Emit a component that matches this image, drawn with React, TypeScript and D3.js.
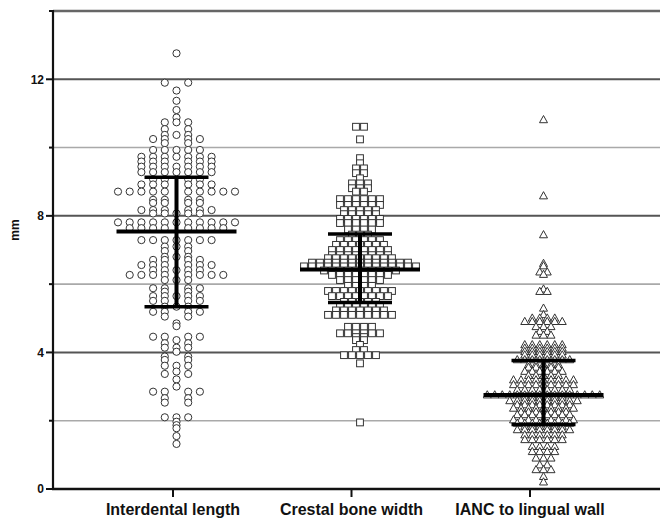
import React, { useRef, useEffect } from 'react';
import * as d3 from 'd3';

// categories on the x axis
const categories = ['Interdental length', 'Crestal bone width', 'IANC to lingual wall'];

// [value in mm, number of points at that value]
const interdentalRows: [number, number][] = [
  [12.76, 1], [11.9, 2], [11.67, 1], [11.37, 1], [11.1, 1], [10.88, 1], [10.74, 3], [10.54, 2],
  [10.37, 3], [10.25, 4], [10.13, 2], [9.93, 5], [9.73, 7], [9.59, 6], [9.44, 7], [9.28, 7],
  [9.07, 4], [8.92, 6], [8.71, 10], [8.47, 4], [8.38, 4], [8.17, 6], [8.07, 5], [7.81, 11],
  [7.64, 8], [7.29, 7], [7.1, 3], [6.97, 2], [6.8, 3], [6.71, 4], [6.56, 6], [6.41, 5],
  [6.27, 8], [6.12, 3], [5.88, 4], [5.78, 2], [5.65, 5], [5.51, 4], [5.34, 3], [5.19, 4],
  [5.05, 2], [4.85, 1], [4.77, 1], [4.46, 4], [4.36, 1], [4.27, 2], [4.14, 3], [4.02, 1],
  [3.88, 2], [3.78, 2], [3.61, 3], [3.44, 1], [3.37, 2], [3.21, 1], [3.0, 1], [2.85, 4],
  [2.66, 2], [2.53, 2], [2.1, 3], [1.97, 1], [1.87, 1], [1.78, 1], [1.55, 1], [1.32, 1],
];

const crestalRows: [number, number][] = [
  [10.61, 2], [10.24, 1], [9.69, 1], [9.54, 1], [9.39, 2], [9.25, 2], [9.1, 1], [8.95, 3],
  [8.81, 3], [8.71, 2], [8.49, 6], [8.32, 6], [8.17, 5], [8.05, 5], [7.91, 6], [7.79, 6],
  [7.6, 4], [7.45, 3], [7.29, 6], [7.15, 7], [7.0, 8], [6.85, 8], [6.76, 9], [6.63, 13],
  [6.52, 15], [6.4, 10], [6.27, 8], [6.12, 6], [5.95, 4], [5.8, 9], [5.65, 8], [5.48, 5],
  [5.36, 6], [5.23, 7], [5.1, 9], [4.75, 4], [4.56, 6], [4.45, 2], [4.36, 2], [4.22, 1],
  [4.07, 2], [3.92, 5], [3.68, 1], [1.95, 1],
];

const iancRows: [number, number][] = [
  [10.81, 1], [8.58, 1], [7.44, 1], [6.6, 1], [6.53, 1], [6.35, 2], [6.28, 1], [5.85, 1],
  [5.78, 2], [5.29, 1], [5.1, 1], [5.0, 4], [4.9, 6], [4.75, 3], [4.61, 2], [4.5, 3],
  [4.22, 6], [4.12, 6], [4.02, 6], [3.92, 6], [3.78, 8], [3.64, 5], [3.56, 5], [3.44, 6],
  [3.32, 5], [3.19, 9], [3.05, 9], [2.9, 8], [2.75, 16], [2.68, 6], [2.58, 10], [2.46, 8],
  [2.36, 9], [2.25, 7], [2.17, 8], [2.02, 9], [1.92, 8], [1.83, 6], [1.73, 8], [1.58, 6],
  [1.44, 6], [1.24, 4], [1.09, 4], [0.9, 3], [0.7, 2], [0.56, 3], [0.36, 1], [0.2, 1],
];

// summary bars (lower, centre, upper) per category
const lowerBar = [5.34, 5.46, 1.89];
const centerBar = [7.54, 6.43, 2.75];
const upperBar = [9.13, 7.47, 3.76];

const majorTicks = [0, 4, 8, 12];
const minorTicks = [2, 6, 10, 14];

const FONT = '"Liberation Sans", Arial, Helvetica, sans-serif';

const DotPlot = () => {
  const svgRef = useRef<SVGSVGElement>(null);

  const totalWidth = 660;
  const totalHeight = 524;

  useEffect(() => {
    const svg = d3.select(svgRef.current);
    svg.selectAll('*').remove();

    const y = d3.scaleLinear().domain([0, 14]).range([489, 11]);
    const axisX = d3.scalePoint<string>().domain(categories).range([173, 530]);
    const dataX = d3.scalePoint<string>().domain(categories).range([176.5, 543.5]);
    const left = 53;
    const right = totalWidth;

    // gridlines
    const grid = svg.append('g');
    [2, 6, 10].forEach(v => {
      grid.append('line')
        .attr('x1', left).attr('x2', right)
        .attr('y1', y(v)).attr('y2', y(v))
        .attr('stroke', '#a9a9a9').attr('stroke-width', 1.6);
    });
    [4, 8, 12].forEach(v => {
      grid.append('line')
        .attr('x1', left).attr('x2', right)
        .attr('y1', y(v)).attr('y2', y(v))
        .attr('stroke', '#555').attr('stroke-width', 2);
    });
    grid.append('line')
      .attr('x1', left).attr('x2', right)
      .attr('y1', y(14)).attr('y2', y(14))
      .attr('stroke', '#666').attr('stroke-width', 2.4);

    // points
    const allRows = [interdentalRows, crestalRows, iancRows];
    const spacing = [11.7, 8, 7.5];
    const pts = svg.append('g');

    allRows.forEach((rows, gi) => {
      const cx = dataX(categories[gi])!;
      rows.forEach(([v, n]) => {
        const offsets: number[] = [];
        if (n % 2 === 1) {
          const k = (n - 1) / 2;
          for (let i = -k; i <= k; i++) offsets.push(i);
        } else if (gi === 0) {
          // circles keep to columns, the centre column left empty
          for (let i = 1; i <= n / 2; i++) { offsets.push(-i); offsets.push(i); }
        } else {
          for (let i = 0; i < n; i++) offsets.push(i - (n - 1) / 2);
        }
        offsets.forEach(o => {
          const px = cx + o * spacing[gi];
          const py = y(v);
          if (gi === 0) {
            pts.append('circle')
              .attr('cx', px).attr('cy', py).attr('r', 3.6)
              .attr('fill', 'white').attr('stroke', '#333').attr('stroke-width', 1);
          } else if (gi === 1) {
            pts.append('rect')
              .attr('x', px - 3.4).attr('y', py - 3.4)
              .attr('width', 6.8).attr('height', 6.8)
              .attr('fill', 'white').attr('stroke', '#333').attr('stroke-width', 1);
          } else {
            pts.append('path')
              .attr('d', `M${px},${py - 4.4}L${px + 4},${py + 2.8}L${px - 4},${py + 2.8}Z`)
              .attr('fill', 'white').attr('stroke', '#333').attr('stroke-width', 1);
          }
        });
      });
    });

    // summary bars
    const bars = svg.append('g').attr('stroke', '#000');
    categories.forEach((c, i) => {
      const cx = dataX(c)!;
      bars.append('line')
        .attr('x1', cx).attr('x2', cx)
        .attr('y1', y(lowerBar[i])).attr('y2', y(upperBar[i]))
        .attr('stroke-width', 4);
      [lowerBar[i], upperBar[i]].forEach(v => {
        bars.append('line')
          .attr('x1', cx - 32).attr('x2', cx + 32)
          .attr('y1', y(v)).attr('y2', y(v))
          .attr('stroke-width', 3.5);
      });
      bars.append('line')
        .attr('x1', cx - 60).attr('x2', cx + 60)
        .attr('y1', y(centerBar[i])).attr('y2', y(centerBar[i]))
        .attr('stroke-width', 4);
    });

    // y axis
    const ax = svg.append('g');
    ax.append('line')
      .attr('x1', left).attr('x2', left)
      .attr('y1', y(0) + 1).attr('y2', y(14) - 1)
      .attr('stroke', '#111').attr('stroke-width', 2.2);
    majorTicks.forEach(v => {
      ax.append('line')
        .attr('x1', left - 7).attr('x2', left)
        .attr('y1', y(v)).attr('y2', y(v))
        .attr('stroke', '#111').attr('stroke-width', 2);
      ax.append('text')
        .attr('x', 44).attr('y', y(v)).attr('dy', '0.36em')
        .attr('text-anchor', 'end')
        .style('font-family', FONT).style('font-size', '12px').style('font-weight', 'bold')
        .style('fill', '#111')
        .text(v);
    });
    minorTicks.forEach(v => {
      ax.append('line')
        .attr('x1', left - 4).attr('x2', left)
        .attr('y1', y(v)).attr('y2', y(v))
        .attr('stroke', '#111').attr('stroke-width', 2);
    });
    ax.append('text')
      .attr('transform', `translate(19, 230) rotate(-90)`)
      .attr('text-anchor', 'middle')
      .style('font-family', FONT).style('font-size', '12px').style('font-weight', 'bold')
      .style('fill', '#111')
      .text('mm');

    // x axis
    ax.append('line')
      .attr('x1', left - 1).attr('x2', right)
      .attr('y1', y(0)).attr('y2', y(0))
      .attr('stroke', '#111').attr('stroke-width', 2.5);
    categories.forEach(c => {
      ax.append('line')
        .attr('x1', axisX(c)!).attr('x2', axisX(c)!)
        .attr('y1', y(0)).attr('y2', y(0) + 8)
        .attr('stroke', '#111').attr('stroke-width', 2);
      ax.append('text')
        .attr('x', axisX(c)!).attr('y', 515)
        .attr('text-anchor', 'middle')
        .style('font-family', FONT).style('font-size', '16px').style('font-weight', 'bold')
        .style('fill', '#111')
        .text(c);
    });
  }, []);

  return (
    <svg
      ref={svgRef}
      width={totalWidth}
      height={totalHeight}
      style={{ position: 'absolute', left: 0, top: 0, background: 'white' }}
    ></svg>
  );
};

export default function App() {
  return <DotPlot />;
}
